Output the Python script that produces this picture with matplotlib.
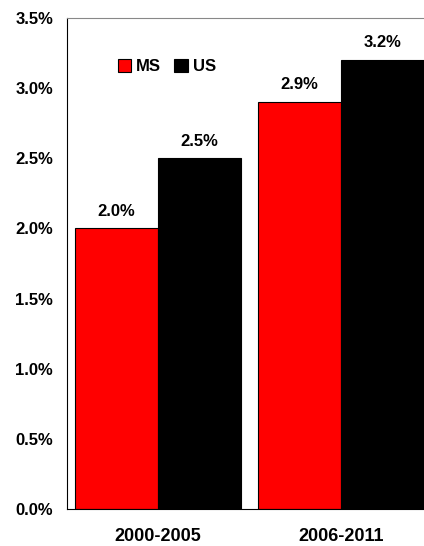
import matplotlib.pyplot as plt
import numpy as np
from matplotlib.ticker import FuncFormatter

plt.rcParams['font.family'] = ['Liberation Sans', 'DejaVu Sans']
plt.rcParams['font.weight'] = 'bold'

periods = ['2000-2005', '2006-2011']
ms = [2.0, 2.9]
us = [2.5, 3.2]

fig = plt.figure(figsize=(4.24, 5.46), dpi=100)
ax = fig.add_axes([0.158, 0.0678, 0.842, 0.899])

x = np.arange(len(periods))
w = 0.4536
ax.bar(x - w / 2, ms, w, color='#ff0000', edgecolor='black', linewidth=0.8, label='MS')
ax.bar(x + w / 2, us, w, color='black', edgecolor='black', linewidth=0.8, label='US')

for xi, v in zip(x - w / 2, ms):
    ax.text(xi, v + 0.07, f'{v:.1f}%', ha='center', va='bottom', fontsize=12, fontweight='bold')
for xi, v in zip(x + w / 2, us):
    ax.text(xi, v + 0.07, f'{v:.1f}%', ha='center', va='bottom', fontsize=12, fontweight='bold')

ax.set_xlim(-0.497, 1.455)
ax.set_ylim(0, 3.5)
ax.set_yticks(np.arange(0, 3.51, 0.5))
ax.yaxis.set_major_formatter(FuncFormatter(lambda v, p: f'{v:.1f}%'))
ax.set_xticks(x)
ax.set_xticklabels(periods, fontsize=13, fontweight='bold')
ax.tick_params(axis='both', length=0)
ax.tick_params(axis='x', pad=14)
ax.tick_params(axis='y', pad=10, labelsize=12)

ax.spines['right'].set_visible(False)
ax.spines['top'].set_color('#888888')
ax.spines['top'].set_linewidth(0.8)
ax.spines['left'].set_linewidth(0.8)
ax.spines['bottom'].set_linewidth(0.8)

ax.legend(loc='upper left', bbox_to_anchor=(0.1, 0.947), ncol=2, frameon=False,
          handlelength=0.8, handleheight=0.8, handletextpad=0.3, columnspacing=0.8,
          prop={'size': 12, 'weight': 'bold'})

fig.savefig('out.png', dpi=100)
